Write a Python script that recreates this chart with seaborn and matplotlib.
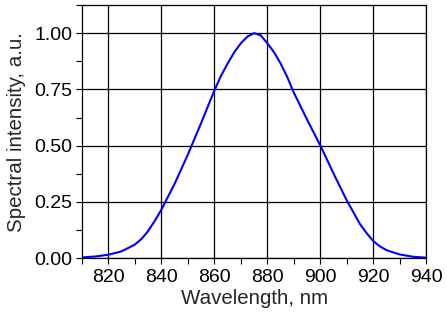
import numpy as np
import pandas as pd
import matplotlib
matplotlib.use("Agg")
import matplotlib.pyplot as plt
import seaborn as sns
from matplotlib.ticker import MultipleLocator, FormatStrFormatter

# values
wavelength = [810, 815, 820, 825, 830, 832.5, 835, 837.5, 840, 845, 850, 855,
              860, 862.5, 865, 867.5, 870, 872.5, 875, 877.5, 880, 882.5, 885,
              887.5, 890, 892.5, 895, 900, 905, 910, 915, 917.5, 920, 922.5,
              925, 930, 935, 940]
intensity = [0.003, 0.007, 0.015, 0.030, 0.060, 0.085, 0.120, 0.165, 0.215,
             0.330, 0.460, 0.600, 0.745, 0.810, 0.865, 0.915, 0.955, 0.985,
             1.000, 0.990, 0.955, 0.915, 0.865, 0.805, 0.735, 0.675, 0.615,
             0.500, 0.375, 0.255, 0.150, 0.110, 0.075, 0.052, 0.035, 0.016,
             0.006, 0.002]

df = pd.DataFrame({"Wavelength": wavelength, "Intensity": intensity})

sns.set_style("ticks")
plt.rcParams["font.family"] = ["Liberation Sans", "DejaVu Sans"]

fig = plt.figure(figsize=(4.47, 3.14), dpi=100)
ax = fig.add_axes([0.183, 0.178, 0.771, 0.806])

sns.lineplot(data=df, x="Wavelength", y="Intensity", color="#0000ff",
             linewidth=1.5, ax=ax)

ax.set_xlim(810, 940)
ax.set_ylim(0, 1.125)
ax.xaxis.set_major_locator(MultipleLocator(20))
ax.xaxis.set_minor_locator(MultipleLocator(10))
ax.yaxis.set_major_locator(MultipleLocator(0.25))
ax.yaxis.set_minor_locator(MultipleLocator(0.125))
ax.yaxis.set_major_formatter(FormatStrFormatter("%.2f"))

ax.grid(True, which="major", color="black", linewidth=0.9)
for s in ax.spines.values():
    s.set_visible(True)
    s.set_color("black")
    s.set_linewidth(0.9)
ax.tick_params(which="both", direction="out", length=4, width=0.8,
               colors="black", labelsize=14, top=False, right=False)
ax.tick_params(axis="y", pad=3)
ax.tick_params(axis="x", pad=4)

ax.set_xlabel("Wavelength, nm", fontsize=14.8, labelpad=2)
ax.set_ylabel("Spectral intensity, a.u.", fontsize=14.8, labelpad=6)

fig.savefig("out.png", dpi=100)
